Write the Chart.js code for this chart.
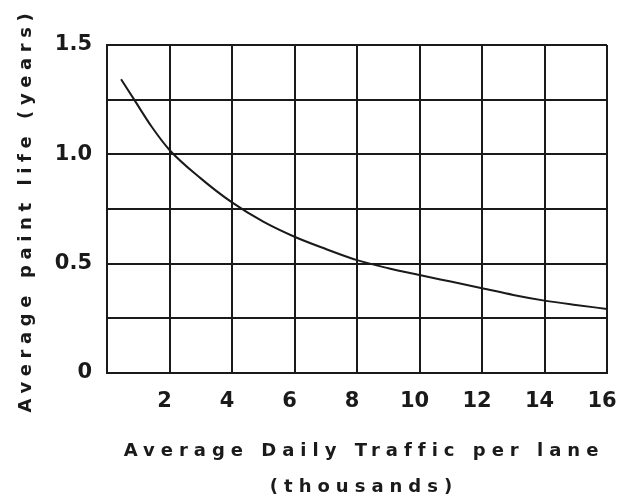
<!DOCTYPE html>
<html>
<head>
<meta charset="utf-8">
<script src="https://cdn.jsdelivr.net/npm/chart.js@4/dist/chart.umd.min.js"></script>
<style>
  html, body { margin: 0; padding: 0; background: #fff; }
  #wrap { width: 618px; height: 504px; position: relative; }
</style>
</head>
<body>
<div id="wrap"><canvas id="c" width="618" height="504"></canvas></div>
<script>
// Data
const trafficThousands = [0.45, 0.87, 1.43, 2, 3, 4, 5, 6, 7, 8, 9, 10, 11, 12, 13, 14, 15, 16];
const paintLifeYears   = [1.343, 1.25, 1.126, 1.02, 0.89, 0.78, 0.692, 0.623, 0.567, 0.516, 0.479, 0.448, 0.418, 0.388, 0.357, 0.331, 0.311, 0.293];

// Tick labels
const xTickValues = [0, 2, 4, 6, 8, 10, 12, 14, 16];
const xTickLabels = ['', '2', '4', '6', '8', '10', '12', '14', '16'];
const yTickValues = [0, 0.25, 0.5, 0.75, 1.0, 1.25, 1.5];
const yTickLabels = ['0', '', '0.5', '', '1.0', '', '1.5'];

// Axis titles
const xTitleLines = ['Average Daily Traffic per lane', '(thousands)'];
const yTitle = 'Average paint life (years)';

const INK = '#1a1a1a';
const tickFont = { family: '"DejaVu Sans", sans-serif', size: 21, weight: 'bold' };

function labelFor(values, labels, v) {
  const i = values.findIndex(t => Math.abs(t - v) < 1e-6);
  return i >= 0 ? labels[i] : '';
}

const titlePlugin = {
  id: 'spacedTitles',
  afterDraw(chart) {
    const ctx = chart.ctx;
    ctx.save();
    ctx.fillStyle = INK;
    ctx.font = 'bold 18px "DejaVu Sans", sans-serif';
    ctx.textAlign = 'center';
    ctx.textBaseline = 'middle';
    ctx.letterSpacing = '6px';
    const cx = 364;
    ctx.fillText(xTitleLines[0], cx, 451);
    ctx.fillText(xTitleLines[1], cx, 487);
    ctx.letterSpacing = '5.6px';
    ctx.translate(26, 210);
    ctx.rotate(-Math.PI / 2);
    ctx.fillText(yTitle, 0, 0);
    ctx.restore();
  }
};

new Chart(document.getElementById('c'), {
  type: 'line',
  data: {
    datasets: [{
      data: trafficThousands.map((x, i) => ({ x: x, y: paintLifeYears[i] })),
      borderColor: INK,
      borderWidth: 2,
      pointRadius: 0,
      fill: false,
      cubicInterpolationMode: 'monotone'
    }]
  },
  options: {
    responsive: false,
    animation: false,
    devicePixelRatio: 1,
    layout: { padding: { left: 0, right: 11, top: 45, bottom: 0 } },
    plugins: { legend: { display: false }, tooltip: { enabled: false } },
    scales: {
      x: {
        type: 'linear',
        min: 0, max: 16,
        afterBuildTicks(scale) { scale.ticks = xTickValues.map(v => ({ value: v })); },
        afterFit(scale) { scale.height = 131; scale.paddingLeft = 0; scale.paddingRight = 0; },
        grid: { color: INK, lineWidth: 2, drawTicks: false },
        border: { color: INK, width: 2 },
        ticks: {
          color: INK, font: tickFont, padding: 16, maxRotation: 0, autoSkip: false,
          labelOffset: -5,
          callback: v => labelFor(xTickValues, xTickLabels, v)
        }
      },
      y: {
        type: 'linear',
        min: 0, max: 1.5,
        afterBuildTicks(scale) { scale.ticks = yTickValues.map(v => ({ value: v })); },
        afterFit(scale) { scale.width = 107; scale.paddingTop = 0; scale.paddingBottom = 0; },
        grid: { color: INK, lineWidth: 2, drawTicks: false },
        border: { color: INK, width: 2 },
        ticks: {
          color: INK, font: tickFont, padding: 15, autoSkip: false,
          callback: v => labelFor(yTickValues, yTickLabels, v)
        }
      }
    }
  },
  plugins: [titlePlugin]
});
</script>
</body>
</html>
